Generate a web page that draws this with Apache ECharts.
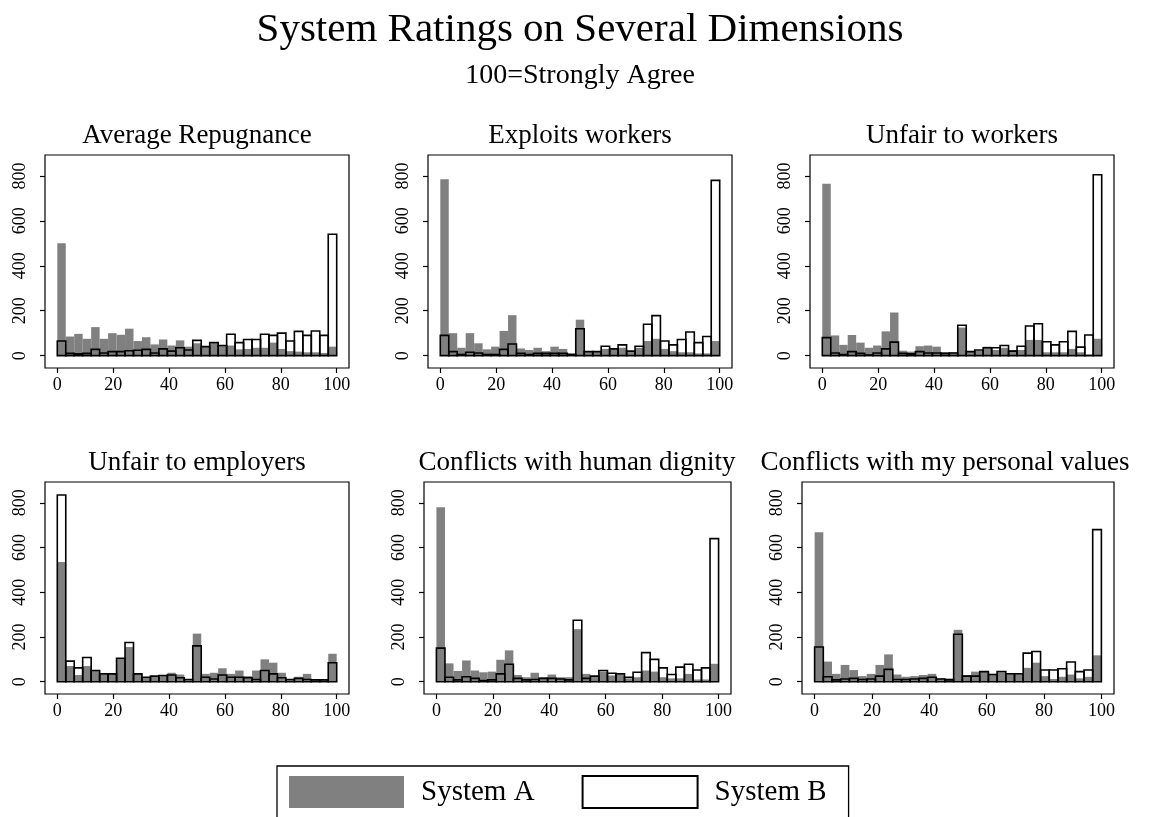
<!DOCTYPE html>
<html>
<head>
<meta charset="utf-8">
<title>System Ratings on Several Dimensions</title>
<script src="https://cdn.jsdelivr.net/npm/echarts@6.0.0/dist/echarts.min.js"></script>
<style>
  html, body { margin: 0; padding: 0; background: #fff; }
  #chart { width: 1160px; height: 817px; }
</style>
</head>
<body>
<div id="chart"></div>
<script>
// histogram: 33 bins over 0..100
var binCount = 33;
var xTicks = [0, 20, 40, 60, 80, 100];
var yTicks = [0, 200, 400, 600, 800];

var panelTitles = [
  "Average Repugnance",
  "Exploits workers",
  "Unfair to workers",
  "Unfair to employers",
  "Conflicts with human dignity",
  "Conflicts with my personal values"
];

// counts per bin, System A (gray) and System B (outline)
var repugA = [500, 85, 97, 75, 127, 75, 100, 93, 120, 65, 82, 50, 72, 45, 68, 40, 55, 42, 55, 45, 45, 28, 30, 35, 35, 58, 30, 20, 18, 15, 15, 12, 40];
var repugB = [65, 10, 8, 10, 28, 12, 18, 18, 22, 24, 28, 12, 30, 20, 35, 25, 68, 40, 58, 45, 95, 58, 72, 72, 95, 90, 100, 65, 108, 90, 110, 90, 540];

var exploitA = [785, 100, 35, 100, 55, 28, 40, 110, 180, 32, 25, 35, 20, 40, 30, 10, 160, 20, 20, 30, 30, 35, 20, 35, 65, 75, 30, 20, 15, 15, 10, 10, 65];
var exploitB = [90, 18, 5, 15, 12, 5, 5, 28, 52, 10, 5, 10, 10, 10, 10, 5, 120, 18, 18, 42, 30, 48, 20, 42, 140, 178, 65, 48, 72, 105, 58, 85, 780];

var unfairWorkA = [765, 90, 48, 92, 58, 35, 45, 108, 192, 22, 18, 42, 45, 40, 15, 15, 125, 18, 22, 40, 25, 35, 25, 25, 70, 70, 15, 15, 15, 30, 15, 5, 75];
var unfairWorkB = [80, 12, 5, 18, 10, 3, 12, 30, 60, 10, 8, 18, 12, 12, 10, 12, 135, 18, 25, 35, 35, 45, 20, 42, 132, 142, 62, 48, 62, 108, 38, 92, 805];

var unfairEmpA = [535, 70, 30, 70, 50, 32, 38, 105, 155, 35, 20, 25, 30, 40, 32, 12, 215, 35, 40, 60, 35, 50, 25, 50, 100, 85, 40, 12, 22, 35, 10, 12, 125];
var unfairEmpB = [835, 92, 62, 108, 50, 35, 35, 105, 175, 35, 20, 25, 28, 30, 18, 10, 160, 20, 12, 30, 20, 20, 18, 10, 50, 35, 18, 10, 15, 10, 8, 8, 85];

var dignityA = [780, 82, 48, 95, 50, 42, 45, 98, 140, 30, 20, 40, 20, 32, 20, 20, 235, 35, 25, 45, 28, 30, 15, 20, 50, 45, 20, 15, 15, 35, 10, 10, 80];
var dignityB = [150, 20, 8, 22, 15, 5, 8, 35, 78, 15, 8, 10, 15, 15, 12, 8, 275, 15, 25, 50, 38, 35, 20, 42, 130, 100, 62, 32, 65, 78, 52, 62, 640];

var valuesA = [668, 90, 35, 75, 52, 25, 35, 75, 122, 32, 22, 25, 30, 35, 15, 15, 232, 30, 45, 45, 35, 40, 30, 30, 62, 85, 25, 12, 22, 32, 15, 22, 118];
var valuesB = [155, 22, 8, 12, 15, 10, 12, 25, 55, 10, 10, 12, 15, 20, 12, 8, 212, 25, 25, 45, 32, 45, 35, 35, 128, 135, 52, 52, 58, 88, 45, 52, 680];

var seriesA = [repugA, exploitA, unfairWorkA, unfairEmpA, dignityA, valuesA];
var seriesB = [repugB, exploitB, unfairWorkB, unfairEmpB, dignityB, valuesB];

// plot frames of the six panels (px), and where each title sits
var frames = [
  { left: 45,  top: 155, width: 304, height: 213, tx: 197, ty: 136 },
  { left: 428, top: 155, width: 304, height: 213, tx: 580, ty: 136 },
  { left: 810, top: 155, width: 304, height: 213, tx: 962, ty: 136 },
  { left: 45,  top: 482, width: 304, height: 212, tx: 197, ty: 463 },
  { left: 424, top: 482, width: 307, height: 212, tx: 577, ty: 463 },
  { left: 802, top: 482, width: 312, height: 212, tx: 945, ty: 463 }
];

var FONT = '"Liberation Serif", "Times New Roman", serif';
var grayA = "#808080";

// turn bin counts into [from, to, count]
function toBins(counts) {
  var w = 100 / binCount;
  return counts.map(function (c, i) {
    return [i * w, (i + 1) * w, c];
  });
}

function renderBar(outline) {
  return function (params, api) {
    var p0 = api.coord([api.value(0), api.value(2)]);
    var p1 = api.coord([api.value(1), 0]);
    var style = outline
      ? { fill: "none", stroke: "#000", lineWidth: 1.6 }
      : { fill: grayA };
    return {
      type: "rect",
      shape: { x: p0[0], y: p0[1], width: p1[0] - p0[0], height: p1[1] - p0[1] },
      style: style
    };
  };
}

var grids = [], xAxes = [], yAxes = [], series = [], graphics = [];

frames.forEach(function (f, i) {
  grids.push({
    left: f.left, top: f.top, width: f.width, height: f.height,
    show: true, borderColor: "#000", borderWidth: 1.2, backgroundColor: "#fff"
  });
  xAxes.push({
    type: "value", gridIndex: i, min: -4.4, max: 104.4,
    axisLine: { show: false, onZero: false },
    axisTick: { show: true, length: 5, customValues: xTicks, lineStyle: { color: "#000", width: 1.2 } },
    axisLabel: { customValues: xTicks, margin: 8, color: "#000", fontSize: 18, fontFamily: FONT },
    splitLine: { show: false }
  });
  yAxes.push({
    type: "value", gridIndex: i, min: -55, max: 893,
    axisLine: { show: false, onZero: false },
    axisTick: { show: true, length: 5, customValues: yTicks, lineStyle: { color: "#000", width: 1.2 } },
    axisLabel: { customValues: yTicks, rotate: 90, margin: 16, color: "#000", fontSize: 18, fontFamily: FONT },
    splitLine: { show: false }
  });
  series.push({
    name: "System A", type: "custom", xAxisIndex: i, yAxisIndex: i,
    itemStyle: { color: grayA },
    renderItem: renderBar(false),
    data: toBins(seriesA[i]),
    z: 2
  });
  series.push({
    name: "System B", type: "custom", xAxisIndex: i, yAxisIndex: i,
    itemStyle: { color: "#fff" },
    renderItem: renderBar(true),
    data: toBins(seriesB[i]),
    z: 3
  });
  // panel title
  graphics.push({
    type: "text", x: f.tx, y: f.ty,
    style: { text: panelTitles[i], fill: "#000", font: '27px ' + FONT, align: "center", verticalAlign: "middle" }
  });
});

// main title + subtitle
graphics.push({
  type: "text", x: 580, y: 30,
  style: { text: "System Ratings on Several Dimensions", fill: "#000", font: '41px ' + FONT, align: "center", verticalAlign: "middle" }
});
graphics.push({
  type: "text", x: 580, y: 76,
  style: { text: "100=Strongly Agree", fill: "#000", font: '28px ' + FONT, align: "center", verticalAlign: "middle" }
});

var myChart = echarts.init(document.getElementById("chart"), null, { renderer: "canvas" });
myChart.setOption({
  animation: false,
  backgroundColor: "#fff",
  grid: grids,
  xAxis: xAxes,
  yAxis: yAxes,
  // legend box at the bottom
  legend: {
    left: 277, top: 766,
    selectedMode: false,
    orient: "horizontal",
    borderColor: "#000", borderWidth: 1.3,
    padding: [9, 22, 14, 12],
    itemWidth: 115, itemHeight: 32, itemGap: 47,
    textStyle: { color: "#000", fontSize: 29, fontFamily: FONT, padding: [0, 0, 0, 12] },
    data: [
      { name: "System A", icon: "rect", itemStyle: { color: grayA, borderWidth: 0 } },
      { name: "System B", icon: "rect", itemStyle: { color: "#fff", borderColor: "#000", borderWidth: 2 } }
    ]
  },
  graphic: graphics,
  series: series
});
</script>
</body>
</html>
